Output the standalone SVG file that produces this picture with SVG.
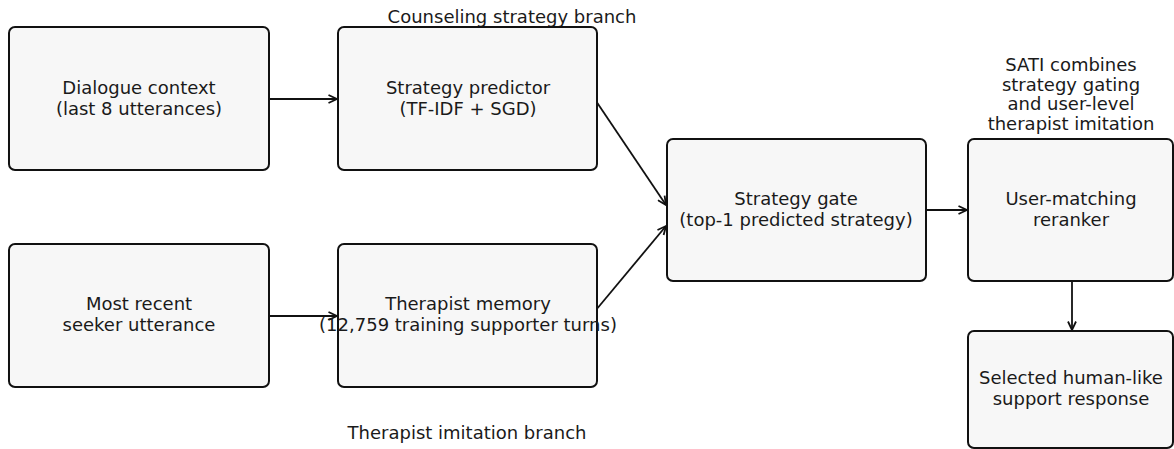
<svg xmlns="http://www.w3.org/2000/svg" width="1174" height="449" viewBox="0 0 1174 449">
<style>
.box{fill:#f7f7f7;stroke:#111;stroke-width:2}
.t{font-family:"DejaVu Sans",sans-serif;font-size:18px;fill:#1a1a1a;text-anchor:middle}
.c{fill:none;stroke:#111;stroke-width:1.8}
</style>
<defs>
<marker id="ah" viewBox="0 0 10 10" refX="9.5" refY="5" markerWidth="10" markerHeight="10" markerUnits="userSpaceOnUse" orient="auto">
<path d="M1,1 L9.5,5 L1,9" fill="none" stroke="#111" stroke-width="1.8"/>
</marker>
</defs>
<rect width="1174" height="449" fill="#fff"/>
<text class="t" x="512" y="23">Counseling strategy branch</text>
<text class="t" x="467" y="439">Therapist imitation branch</text>
<g class="t">
<text x="1071" y="71">SATI combines</text>
<text x="1071" y="90.5">strategy gating</text>
<text x="1071" y="110">and user-level</text>
<text x="1071" y="129.5">therapist imitation</text>
</g>
<g id="connectors">
<line class="c" x1="269" y1="99" x2="337" y2="99" marker-end="url(#ah)"/>
<line class="c" x1="269" y1="316" x2="337" y2="316" marker-end="url(#ah)"/>
<line class="c" x1="596" y1="101" x2="666" y2="205" marker-end="url(#ah)"/>
<line class="c" x1="596" y1="310" x2="666" y2="226" marker-end="url(#ah)"/>
<line class="c" x1="926" y1="210" x2="967" y2="210" marker-end="url(#ah)"/>
<line class="c" x1="1072" y1="281" x2="1072" y2="330" marker-end="url(#ah)"/>
</g>
<g id="n1"><rect class="box" x="9" y="27" width="260" height="143" rx="6"/>
<text class="t" x="139" y="94">Dialogue context</text><text class="t" x="139" y="115">(last 8 utterances)</text></g>
<g id="n2"><rect class="box" x="338" y="27" width="259" height="143" rx="6"/>
<text class="t" x="468" y="94">Strategy predictor</text><text class="t" x="468" y="115">(TF-IDF + SGD)</text></g>
<g id="n3"><rect class="box" x="9" y="244" width="260" height="143" rx="6"/>
<text class="t" x="139" y="310">Most recent</text><text class="t" x="139" y="331">seeker utterance</text></g>
<g id="n4"><rect class="box" x="338" y="244" width="259" height="143" rx="6"/>
<text class="t" x="468" y="310">Therapist memory</text><text class="t" x="468" y="331">(12,759 training supporter turns)</text></g>
<g id="n5"><rect class="box" x="667" y="139" width="259" height="142" rx="6"/>
<text class="t" x="796" y="205">Strategy gate</text><text class="t" x="796" y="226">(top-1 predicted strategy)</text></g>
<g id="n6"><rect class="box" x="968" y="139" width="205" height="142" rx="6"/>
<text class="t" x="1071" y="205">User-matching</text><text class="t" x="1071" y="226">reranker</text></g>
<g id="n7"><rect class="box" x="968" y="331" width="205" height="117" rx="6"/>
<text class="t" x="1071" y="384">Selected human-like</text><text class="t" x="1071" y="405">support response</text></g>
</svg>
